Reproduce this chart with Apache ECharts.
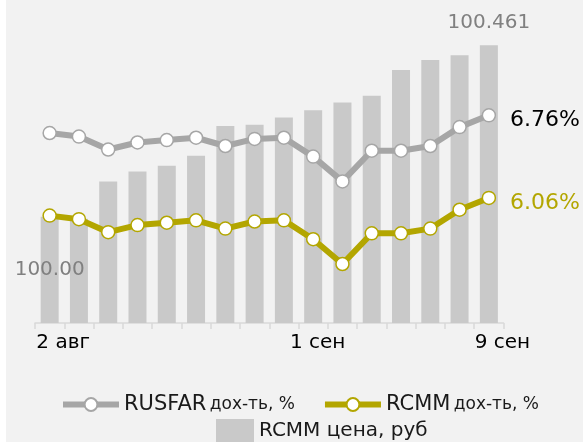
<!DOCTYPE html>
<html>
<head>
<meta charset="utf-8">
<script src="https://cdn.jsdelivr.net/npm/echarts@6/dist/echarts.min.js"></script>
<style>
  html, body { margin: 0; padding: 0; background: #f2f2f2; }
  #chart { width: 583px; height: 442px; }
</style>
</head>
<body>
<div id="chart"></div>
<script>
// подписи оси X (пустые — без подписи)
const tickLabels = ['2 авг', '', '', '', '', '', '', '', '', '1 сен', '', '', '', '', '', '9 сен']
// цена RCMM, руб
const rcmmPrice = [100.00, 99.995, 100.095, 100.122, 100.137, 100.164, 100.244, 100.247,
  100.267, 100.286, 100.307, 100.325, 100.394, 100.421, 100.434, 100.461]
// доходности, %
const rusfarYield = [6.61, 6.58, 6.47, 6.53, 6.55, 6.57, 6.50, 6.56, 6.57, 6.41, 6.20, 6.46, 6.46, 6.50, 6.66, 6.76]
const rcmmYield = [5.91, 5.88, 5.77, 5.83, 5.85, 5.87, 5.80, 5.86, 5.87, 5.71, 5.50, 5.76, 5.76, 5.80, 5.96, 6.06]

const FONT = 'DejaVu Sans'
const GRAY = '#a6a6a6'
const OLIVE = '#b3a600'
const last = rcmmPrice.length - 1

const chart = echarts.init(document.getElementById('chart'))

// подпись только у последней точки
function lineData(arr, color) {
  return arr.map((v, i) => i !== last ? v : {
    value: v,
    label: {
      show: true, position: 'right', distance: 14, offset: [0, 5],
      fontFamily: FONT, fontSize: 22, color: color,
      formatter: (p) => p.value.toFixed(2) + '%',
    },
  })
}

const barData = rcmmPrice.map((v, i) => {
  if (i === 0) {
    return { value: v, label: { show: true, position: 'inside', formatter: (p) => p.value.toFixed(2) } }
  }
  if (i === last) {
    return { value: v, label: { show: true, position: 'top', distance: 12, formatter: (p) => p.value.toFixed(3) } }
  }
  return v
})

const legendRich = {
  a: { fontFamily: FONT, fontSize: 21, color: '#1a1a1a' },
  b: { fontFamily: FONT, fontSize: 17, color: '#1a1a1a' },
}

chart.setOption({
  animation: false,
  backgroundColor: '#f2f2f2',
  graphic: [
    { type: 'rect', left: 0, top: 0, shape: { width: 6, height: 442 }, style: { fill: '#ffffff' }, silent: true },
  ],
  grid: { left: 35, right: 79.5, top: 28, bottom: 119 },
  legend: [
    {
      data: ['RUSFAR дох-ть, %', 'RCMM дох-ть, %'],
      left: 60, top: 394, padding: 0,
      itemWidth: 56, itemHeight: 16, itemGap: 27, itemTextGap: 4,
      lineStyle: { width: 6 },
      formatter: (name) => {
        const k = name.indexOf(' ')
        return '{a|' + name.slice(0, k) + '} {b|' + name.slice(k + 1) + '}'
      },
      textStyle: { rich: legendRich },
    },
    {
      data: ['RCMM цена, руб'],
      left: 216, top: 419, padding: 0,
      icon: 'rect',
      itemWidth: 38, itemHeight: 24, itemTextGap: 8,
      textStyle: { fontFamily: FONT, fontSize: 20, color: '#1a1a1a' },
    },
  ],
  xAxis: {
    type: 'category',
    data: tickLabels,
    boundaryGap: true,
    axisLine: { lineStyle: { color: '#d9d9d9', width: 1.5 } },
    axisTick: { show: true, interval: 0, length: 6, lineStyle: { color: '#d9d9d9', width: 1.5 } },
    axisLabel: {
      interval: 0, margin: 10,
      fontFamily: FONT, fontSize: 20, color: '#000',
      formatter: (v) => v === '' ? '' : (v === '1 сен' ? '{b|' + v + '}' : '{a|' + v + '}'),
      rich: {
        a: { fontFamily: FONT, fontSize: 20, color: '#000', padding: [0, 0, 0, 27] },
        b: { fontFamily: FONT, fontSize: 20, color: '#000', padding: [0, 0, 0, 9] },
      },
    },
  },
  yAxis: [
    { type: 'value', min: 5, max: 7.5, show: false, splitLine: { show: false } },
    { type: 'value', min: 99.715, max: 100.507, show: false, splitLine: { show: false } },
  ],
  series: [
    {
      name: 'RCMM цена, руб',
      type: 'bar',
      yAxisIndex: 1,
      barWidth: 18,
      itemStyle: { color: '#c9c9c9' },
      label: { fontFamily: FONT, fontSize: 20, color: '#808080' },
      data: barData,
      z: 1,
    },
    {
      name: 'RUSFAR дох-ть, %',
      type: 'line',
      yAxisIndex: 0,
      symbol: 'circle', symbolSize: 13,
      lineStyle: { color: GRAY, width: 6 },
      itemStyle: { color: '#ffffff', borderColor: GRAY, borderWidth: 1.5 },
      data: lineData(rusfarYield, '#000000'),
      z: 3,
    },
    {
      name: 'RCMM дох-ть, %',
      type: 'line',
      yAxisIndex: 0,
      symbol: 'circle', symbolSize: 13,
      lineStyle: { color: OLIVE, width: 6 },
      itemStyle: { color: '#ffffff', borderColor: OLIVE, borderWidth: 1.5 },
      data: lineData(rcmmYield, OLIVE),
      z: 3,
    },
  ],
})
</script>
</body>
</html>
